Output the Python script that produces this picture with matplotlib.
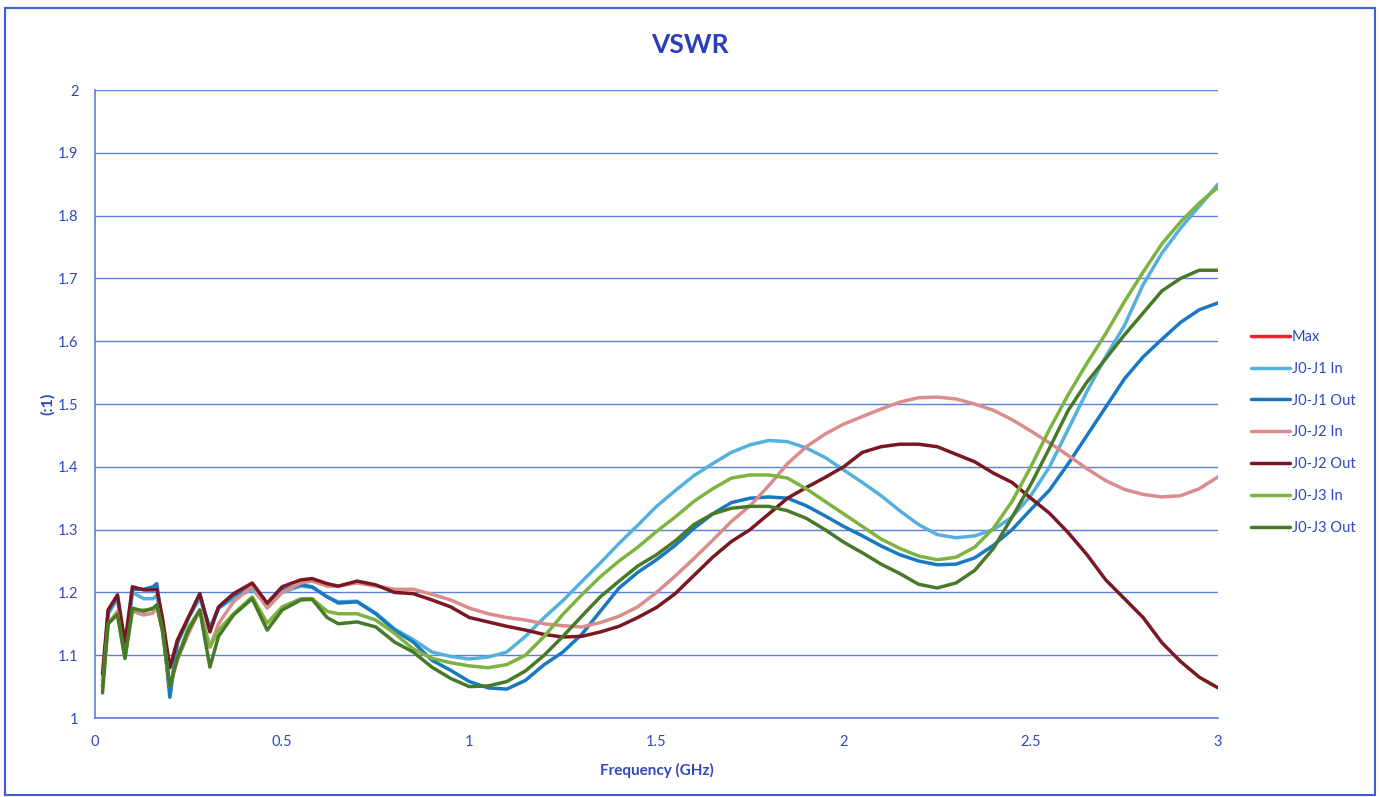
import matplotlib
matplotlib.use("Agg")
import matplotlib.pyplot as plt
from matplotlib.patches import Rectangle

# ---------------- data ----------------
freq_ghz = [0.02, 0.035, 0.06, 0.08, 0.10, 0.13, 0.155, 0.165, 0.18, 0.20,
            0.22, 0.25, 0.28, 0.307, 0.33, 0.37, 0.42, 0.46, 0.50, 0.55,
            0.58, 0.62, 0.65, 0.70, 0.75, 0.80, 0.85, 0.90, 0.95, 1.00,
            1.05, 1.10, 1.15, 1.20, 1.25, 1.30, 1.35, 1.40, 1.45, 1.50,
            1.55, 1.60, 1.65, 1.70, 1.75, 1.80, 1.85, 1.90, 1.95, 2.00,
            2.05, 2.10, 2.15, 2.20, 2.25, 2.30, 2.35, 2.40, 2.45, 2.50,
            2.55, 2.60, 2.65, 2.70, 2.75, 2.80, 2.85, 2.90, 2.95, 3.00]

vswr_max = []  # "Max" series: listed in legend, no visible trace

vswr_j1_in = [1.06, 1.165, 1.19, 1.11, 1.20, 1.19, 1.19, 1.195, 1.15, 1.04,
              1.12, 1.16, 1.19, 1.145, 1.175, 1.19, 1.205, 1.18, 1.20, 1.21,
              1.208, 1.193, 1.185, 1.186, 1.167, 1.142, 1.125, 1.105, 1.098, 1.094,
              1.097, 1.105, 1.13, 1.16, 1.187, 1.217, 1.247, 1.278, 1.307, 1.337,
              1.362, 1.386, 1.405, 1.423, 1.435, 1.442, 1.44, 1.43, 1.415, 1.395,
              1.375, 1.354, 1.33, 1.308, 1.292, 1.287, 1.29, 1.30, 1.32, 1.354,
              1.40, 1.46, 1.52, 1.575, 1.625, 1.69, 1.74, 1.78, 1.815, 1.85]

vswr_j1_out = [1.05, 1.17, 1.195, 1.11, 1.205, 1.205, 1.209, 1.214, 1.15, 1.033,
               1.119, 1.16, 1.197, 1.14, 1.175, 1.195, 1.21, 1.18, 1.204, 1.212,
               1.209, 1.193, 1.183, 1.185, 1.166, 1.14, 1.121, 1.092, 1.076, 1.058,
               1.048, 1.046, 1.06, 1.085, 1.105, 1.133, 1.17, 1.207, 1.232, 1.252,
               1.275, 1.302, 1.325, 1.343, 1.35, 1.352, 1.35, 1.338, 1.322, 1.305,
               1.29, 1.274, 1.26, 1.25, 1.244, 1.245, 1.255, 1.275, 1.30, 1.332,
               1.363, 1.405, 1.45, 1.495, 1.54, 1.575, 1.603, 1.63, 1.65, 1.661]

vswr_j2_in = [1.06, 1.15, 1.17, 1.12, 1.17, 1.164, 1.167, 1.18, 1.14, 1.05,
              1.092, 1.135, 1.172, 1.113, 1.15, 1.185, 1.21, 1.175, 1.20, 1.215,
              1.218, 1.21, 1.21, 1.215, 1.21, 1.205, 1.205, 1.197, 1.188, 1.175,
              1.166, 1.16, 1.156, 1.15, 1.147, 1.145, 1.152, 1.162, 1.177, 1.20,
              1.226, 1.254, 1.283, 1.313, 1.338, 1.37, 1.405, 1.432, 1.452, 1.468,
              1.48, 1.492, 1.503, 1.51, 1.511, 1.508, 1.50, 1.49, 1.475, 1.457,
              1.438, 1.418, 1.397, 1.378, 1.364, 1.356, 1.352, 1.354, 1.365, 1.384]

vswr_j2_out = [1.07, 1.172, 1.196, 1.12, 1.209, 1.204, 1.204, 1.205, 1.16, 1.08,
               1.124, 1.161, 1.198, 1.137, 1.177, 1.198, 1.215, 1.183, 1.209, 1.22,
               1.222, 1.214, 1.21, 1.218, 1.212, 1.20, 1.198, 1.188, 1.177, 1.16,
               1.153, 1.146, 1.14, 1.133, 1.129, 1.13, 1.137, 1.146, 1.16, 1.176,
               1.198, 1.227, 1.256, 1.281, 1.30, 1.325, 1.35, 1.367, 1.383, 1.40,
               1.423, 1.432, 1.436, 1.436, 1.432, 1.42, 1.408, 1.39, 1.375, 1.35,
               1.326, 1.295, 1.26, 1.22, 1.19, 1.16, 1.12, 1.09, 1.065, 1.048]

vswr_j3_in = [1.05, 1.15, 1.166, 1.095, 1.17, 1.172, 1.173, 1.18, 1.14, 1.05,
              1.097, 1.145, 1.172, 1.113, 1.14, 1.166, 1.193, 1.151, 1.177, 1.19,
              1.19, 1.17, 1.166, 1.166, 1.156, 1.135, 1.11, 1.095, 1.088, 1.083,
              1.08, 1.085, 1.10, 1.13, 1.165, 1.196, 1.225, 1.25, 1.272, 1.297,
              1.32, 1.345, 1.365, 1.382, 1.387, 1.387, 1.382, 1.365, 1.345, 1.325,
              1.305, 1.285, 1.27, 1.258, 1.252, 1.256, 1.272, 1.302, 1.345, 1.40,
              1.46, 1.515, 1.565, 1.612, 1.663, 1.71, 1.755, 1.79, 1.82, 1.845]

vswr_j3_out = [1.04, 1.15, 1.165, 1.095, 1.175, 1.17, 1.175, 1.18, 1.14, 1.05,
               1.095, 1.14, 1.172, 1.081, 1.13, 1.164, 1.19, 1.14, 1.172, 1.188,
               1.189, 1.16, 1.15, 1.153, 1.145, 1.121, 1.105, 1.081, 1.063, 1.05,
               1.051, 1.058, 1.075, 1.10, 1.13, 1.162, 1.193, 1.218, 1.242, 1.26,
               1.282, 1.308, 1.325, 1.334, 1.337, 1.337, 1.33, 1.318, 1.30, 1.28,
               1.263, 1.245, 1.23, 1.213, 1.207, 1.215, 1.235, 1.27, 1.32, 1.372,
               1.43, 1.49, 1.535, 1.572, 1.61, 1.645, 1.68, 1.70, 1.713, 1.713]

series_names = ["Max", "J0-J1 In", "J0-J1 Out", "J0-J2 In", "J0-J2 Out", "J0-J3 In", "J0-J3 Out"]
x_ticks = [0, 0.5, 1, 1.5, 2, 2.5, 3]
x_tick_labels = ["0", "0.5", "1", "1.5", "2", "2.5", "3"]
y_ticks = [1, 1.1, 1.2, 1.3, 1.4, 1.5, 1.6, 1.7, 1.8, 1.9, 2]
y_tick_labels = ["1", "1.1", "1.2", "1.3", "1.4", "1.5", "1.6", "1.7", "1.8", "1.9", "2"]

# ---------------- style ----------------
plt.rcParams['font.family'] = ['Lato', 'DejaVu Sans']
text_blue = "#2F48C0"
grid_blue = "#5B7FE0"
colors = ["#E8232B", "#55B1DC", "#1A78C2", "#DB8C8C", "#7A1822", "#7DB340", "#477A28"]

fig = plt.figure(figsize=(13.8, 7.97), dpi=100)
ax = fig.add_axes([95 / 1380, 1 - 718 / 797, (1218 - 95) / 1380, (718 - 90) / 797])

series = [vswr_max, vswr_j1_in, vswr_j1_out, vswr_j2_in, vswr_j2_out, vswr_j3_in, vswr_j3_out]
for name, vals, col in zip(series_names, series, colors):
    xs = freq_ghz[:len(vals)]
    ax.plot(xs, vals, color=col, lw=2.5, label=name, solid_joinstyle="round",
            solid_capstyle="round")

ax.set_xlim(0, 3)
ax.set_ylim(1, 2)
ax.set_xticks(x_ticks)
ax.set_xticklabels(x_tick_labels)
ax.set_yticks(y_ticks)
ax.set_yticklabels(y_tick_labels)
ax.tick_params(length=0, colors=text_blue, labelsize=10.5)
ax.tick_params(axis="x", pad=12)
ax.tick_params(axis="y", pad=12)
ax.grid(axis="y", color=grid_blue, lw=1.0)
ax.set_axisbelow(True)
for s in ["top", "right"]:
    ax.spines[s].set_visible(False)
for s in ["left", "bottom"]:
    ax.spines[s].set_color(grid_blue)
    ax.spines[s].set_linewidth(1.2)

ax.set_xlabel("Frequency (GHz)", color=text_blue, fontsize=11, fontweight="bold", labelpad=10)
ax.set_ylabel("(:1)", color=text_blue, fontsize=11.5, fontweight="bold", labelpad=2)

fig.text(690 / 1380, 1 - 45 / 797, "VSWR", ha="center", va="center",
         fontsize=19, fontweight="bold", color="#2A3FB8")

leg = ax.legend(loc="upper left", bbox_to_anchor=(1251 / 1380, 1 - 330 / 797),
                bbox_transform=fig.transFigure, frameon=False, fontsize=10.5,
                handlelength=2.7, handletextpad=0.1, labelspacing=1.22,
                borderpad=0, borderaxespad=0)
for t in leg.get_texts():
    t.set_color(text_blue)

fig.patches.append(Rectangle((5 / 1380, 1 - 795 / 797), 1370 / 1380, 787 / 797,
                             transform=fig.transFigure, fill=False,
                             edgecolor="#3F5FD8", lw=1.5))

fig.savefig("out.png", dpi=100)
